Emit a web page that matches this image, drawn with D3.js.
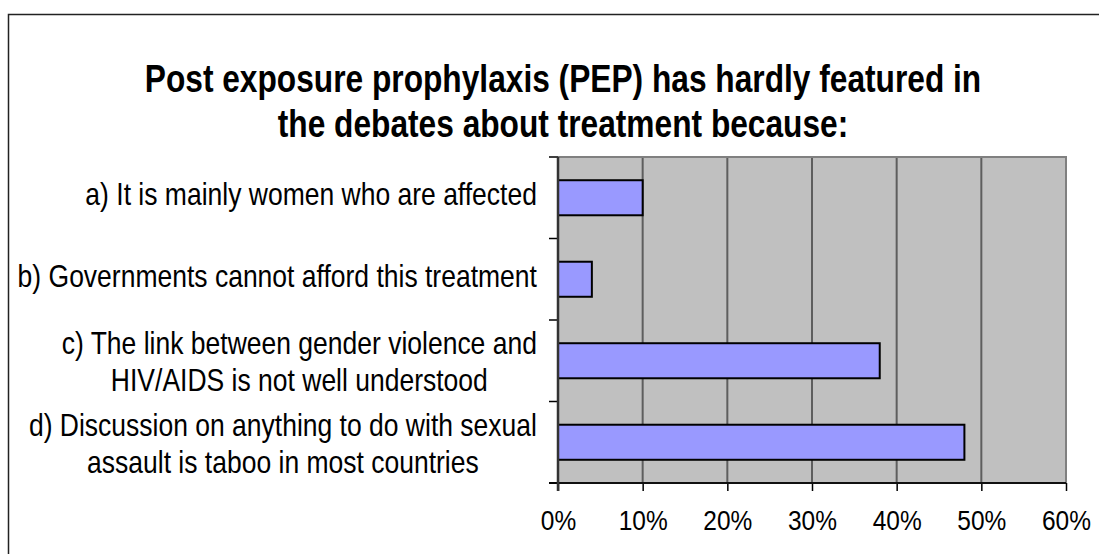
<!DOCTYPE html>
<html>
<head>
<meta charset="utf-8">
<script src="https://cdn.jsdelivr.net/npm/d3@7"></script>
<style>
  html, body { margin: 0; padding: 0; background: #fff; }
  svg { display: block; }
  text { font-family: "Liberation Sans", Arial, sans-serif; fill: #000; }
</style>
</head>
<body>
<svg id="chart" width="1099" height="554"></svg>
<script>
// Survey responses: share of respondents choosing each reason
const titleLines = [
  "Post exposure prophylaxis (PEP) has hardly featured in",
  "the debates about treatment because:"
];
const categories = ["a", "b", "c", "d"];
const categoryLabels = [
  ["a) It is mainly women who are affected"],
  ["b) Governments cannot afford this treatment"],
  ["c) The link between gender violence and", "HIV/AIDS is not well understood"],
  ["d) Discussion on anything to do with sexual", "assault is taboo in most countries"]
];
const values = [0.10, 0.04, 0.38, 0.48];
const xTicks = [0, 0.1, 0.2, 0.3, 0.4, 0.5, 0.6];

const svg = d3.select("#chart");
const W = 1099, H = 554;
const plot = { left: 558, right: 1066, top: 157, bottom: 483 };
const stretch = 1.15; // vertical scaling of the lettering

svg.append("rect").attr("width", W).attr("height", H).attr("fill", "#fff");

// outer chart frame
svg.append("rect")
  .attr("x", 8.5).attr("y", 14.5)
  .attr("width", 1100).attr("height", 560)
  .attr("fill", "none").attr("stroke", "#222").attr("stroke-width", 1.5);

// title
const title = svg.append("g");
titleLines.forEach((t, i) => {
  title.append("text")
    .attr("transform", `translate(563, ${92 + i * 45}) scale(1, 1.2)`)
    .attr("text-anchor", "middle")
    .attr("font-weight", "bold")
    .attr("font-size", 31.7)
    .text(t);
});

const x = d3.scaleLinear().domain([0, 0.6]).range([plot.left, plot.right]);
const y = d3.scaleBand().domain(categories)
  .range([plot.top, plot.bottom])
  .paddingInner(0.57).paddingOuter(0.285);

// plot area background
svg.append("rect")
  .attr("x", plot.left).attr("y", plot.top)
  .attr("width", plot.right - plot.left).attr("height", plot.bottom - plot.top)
  .attr("fill", "#c0c0c0");

// vertical gridlines
svg.append("g")
  .selectAll("line")
  .data(xTicks.filter(v => v > 0 && v < 0.6))
  .join("line")
  .attr("x1", d => x(d)).attr("x2", d => x(d))
  .attr("y1", plot.top).attr("y2", plot.bottom)
  .attr("stroke", "#5e5e5e").attr("stroke-width", 2);

// plot frame (top and right)
svg.append("path")
  .attr("d", `M${plot.left},${plot.top}H${plot.right}V${plot.bottom}`)
  .attr("fill", "none").attr("stroke", "#808080").attr("stroke-width", 2);

// bars
svg.append("g")
  .selectAll("rect")
  .data(categories)
  .join("rect")
  .attr("x", x(0))
  .attr("y", d => y(d))
  .attr("width", (d, i) => x(values[i]) - x(0))
  .attr("height", y.bandwidth())
  .attr("fill", "#9999ff")
  .attr("stroke", "#000").attr("stroke-width", 2);

// bottom axis
const xAxis = d3.axisBottom(x).tickValues(xTicks).tickSize(8).tickFormat(d3.format(".0%"));
const gx = svg.append("g").attr("transform", `translate(0, ${plot.bottom})`).call(xAxis);
gx.select(".domain").remove();
gx.selectAll(".tick line").attr("stroke", "#000").attr("stroke-width", 1.5);
gx.selectAll(".tick text").remove();
gx.append("line")
  .attr("x1", plot.left - 9).attr("x2", plot.right)
  .attr("y1", 0).attr("y2", 0)
  .attr("stroke", "#111").attr("stroke-width", 2);
gx.selectAll(".tick")
  .append("text")
  .attr("transform", `translate(0, 46.5) scale(1, ${stretch})`)
  .attr("text-anchor", "middle")
  .attr("font-size", 24.5)
  .text(d => d3.format(".0%")(d));

// left category axis with ticks at band boundaries
const step = y.step();
const bounds = d3.range(categories.length + 1).map(i => plot.top + i * step);
const gy = svg.append("g");
gy.selectAll("line.tick")
  .data(bounds)
  .join("line")
  .attr("class", "tick")
  .attr("x1", plot.left - 9).attr("x2", plot.left)
  .attr("y1", d => d).attr("y2", d => d)
  .attr("stroke", "#000").attr("stroke-width", 1.5);
gy.append("line")
  .attr("x1", plot.left).attr("x2", plot.left)
  .attr("y1", plot.top).attr("y2", plot.bottom + 8)
  .attr("stroke", "#333").attr("stroke-width", 2.5);

// category labels, right-aligned block with centred lines
const labelRight = 537;
categories.forEach((c, i) => {
  const lines = categoryLabels[i];
  const cy = y(c) + y.bandwidth() / 2;
  const g = svg.append("g");
  const texts = lines.map((t, j) => g.append("text")
    .attr("font-size", 26.5)
    .attr("text-anchor", "middle")
    .text(t));
  const widths = texts.map(t => t.node().getComputedTextLength());
  const cx = labelRight - d3.max(widths) / 2;
  texts.forEach((t, j) => {
    const base = lines.length === 1 ? cy + 7.5 : cy - 6.5 + j * 37;
    t.attr("transform", `translate(${cx}, ${base}) scale(1, ${stretch})`);
  });
});
</script>
</body>
</html>
